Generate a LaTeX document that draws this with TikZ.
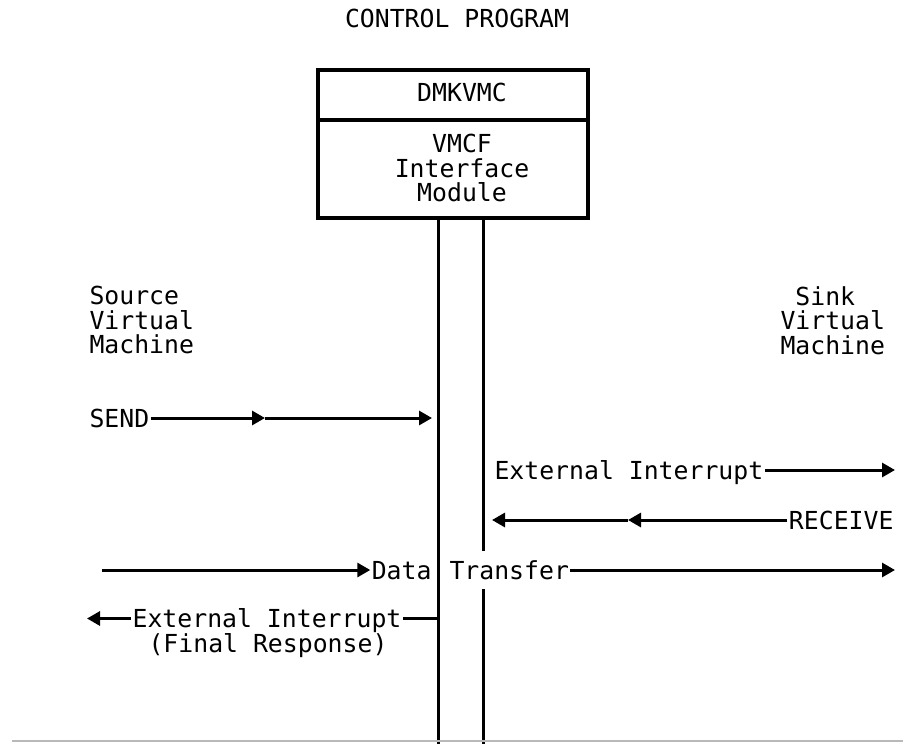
\documentclass[tikz,border=0pt]{standalone}
\usepackage{fontspec}
\newfontfamily\vmmono{DejaVu Sans Mono}
\newcommand\vmtext{\vmmono\fontsize{12.4pt}{12.25pt}\selectfont}
\usetikzlibrary{arrows.meta}

\begin{document}
\begin{tikzpicture}[
    x=0.5pt, y=-0.5pt,
    line width=1.5pt,
    >={Triangle[length=6.5pt,width=7pt]},
    lbl/.style={font=\vmtext, inner sep=0pt, text height=9pt, text depth=0pt},
    block/.style={font=\vmtext, inner sep=0pt, align=center},
    vmname/.style={font=\vmtext, inner sep=0pt, align=left, anchor=north west},
    boxline/.style={line width=1.6pt}
]
\useasboundingbox (0,0) rectangle (903,744);

% Title
\node[lbl] (cp) at (457,18.5) {CONTROL PROGRAM};

% DMKVMC box
\draw[boxline] (318,70) rectangle (588,218);
\draw[boxline] (318,120) -- (588,120);
\node[lbl] (dmk) at (462,92) {DMKVMC};
\node[block, anchor=north] (vmcf) at (462,133) {VMCF\\Interface\\Module};

% The two lines down from the module
\coordinate (lt) at (438,218);
\coordinate (lb) at (438,744);
\coordinate (rt) at (483,218);
\coordinate (rb) at (483,744);
\draw (lt) -- (lb);
\draw (rt) -- (rb);

% Virtual machines
\node[vmname] (src) at (88,285) {Source\\Virtual\\Machine};
\node[vmname] (snk) at (779,285) {~Sink\\Virtual\\Machine};

% SEND
\node[lbl, anchor=west] (send) at (88,418) {SEND};
\coordinate (sendmid) at (265,418);
\coordinate (sendend) at (432,418);
\draw[->] (send.east) -- (sendmid);
\draw[->] (sendmid) -- (sendend);

% External interrupt to the sink
\node[lbl, anchor=west] (extsnk) at (493,470) {External Interrupt};
\coordinate (extend) at (895,470);
\draw[->] (extsnk.east) -- (extend);

% RECEIVE
\node[lbl, anchor=east] (recv) at (895,520) {RECEIVE};
\coordinate (recvmid) at (628,520);
\coordinate (recvend) at (492,520);
\draw[->] (recv.west) -- (recvmid);
\draw[->] (recvmid) -- (recvend);

% Data transfer
\node[lbl, anchor=east] (data) at (433,570) {Data};
\node[lbl, anchor=west, fill=white, inner ysep=5pt] (xfer) at (448,570) {Transfer};
\coordinate (datastart) at (102,570);
\coordinate (xferend) at (895,570);
\draw[->] (datastart) -- (data.west);
\draw[->] (xfer.east) -- (xferend);

% Final response
\node[lbl] (extsrc) at (267,618.5) {External Interrupt};
\node[lbl] (final) at (268,643) {(Final Response)};
\coordinate (extsrcend) at (87,618.5);
\coordinate (extsrcstart) at (438,618.5);
\draw[->] (extsrc.west) -- (extsrcend);
\draw (extsrcstart) -- (extsrc.east);

% Bottom edge
\draw[gray!55, line width=0.6pt] (12,741) -- (903,741);

\end{tikzpicture}
\end{document}
